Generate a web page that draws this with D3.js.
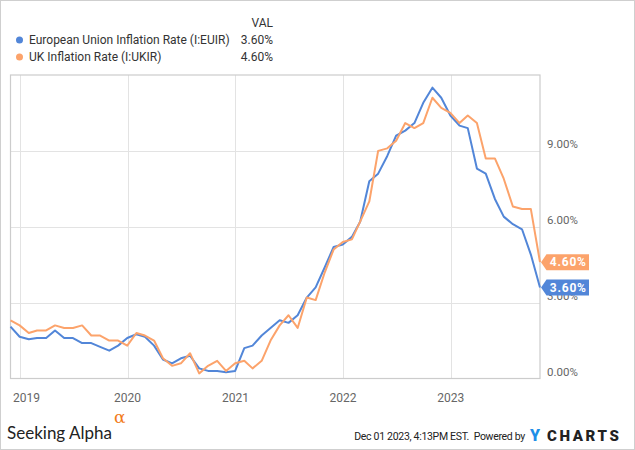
<!DOCTYPE html>
<html>
<head>
<meta charset="utf-8">
<script src="https://cdn.jsdelivr.net/npm/d3@7"></script>
<style>
  html, body { margin: 0; padding: 0; background: #fff; }
  svg { display: block; font-family: Roboto, "Liberation Sans", sans-serif; }
</style>
</head>
<body>
<svg id="chart" width="635" height="450"></svg>
<script>
// ---- data ----
const months = [
  "2018-11","2018-12",
  "2019-01","2019-02","2019-03","2019-04","2019-05","2019-06","2019-07","2019-08","2019-09","2019-10","2019-11","2019-12",
  "2020-01","2020-02","2020-03","2020-04","2020-05","2020-06","2020-07","2020-08","2020-09","2020-10","2020-11","2020-12",
  "2021-01","2021-02","2021-03","2021-04","2021-05","2021-06","2021-07","2021-08","2021-09","2021-10","2021-11","2021-12",
  "2022-01","2022-02","2022-03","2022-04","2022-05","2022-06","2022-07","2022-08","2022-09","2022-10","2022-11","2022-12",
  "2023-01","2023-02","2023-03","2023-04","2023-05","2023-06","2023-07","2023-08","2023-09","2023-10"
];
const euValues = [
  2.05,1.65,
  1.55,1.6,1.6,1.9,1.6,1.6,1.4,1.4,1.25,1.1,1.3,1.6,
  1.75,1.65,1.3,0.75,0.6,0.8,0.9,0.4,0.3,0.3,0.25,0.3,
  1.2,1.3,1.7,2.0,2.3,2.2,2.5,3.2,3.6,4.4,5.2,5.3,
  5.6,6.2,7.8,8.1,8.8,9.6,9.8,10.1,10.9,11.5,11.1,10.4,
  10.0,9.9,8.3,8.1,7.1,6.4,6.1,5.9,4.9,3.6
];
const ukValues = [
  2.3,2.1,
  1.8,1.9,1.9,2.1,2.0,2.0,2.1,1.7,1.7,1.5,1.5,1.3,
  1.8,1.7,1.5,0.8,0.5,0.6,1.0,0.2,0.5,0.7,0.3,0.6,
  0.7,0.4,0.7,1.5,2.1,2.5,2.0,3.2,3.1,4.2,5.1,5.4,
  5.5,6.2,7.0,9.0,9.1,9.4,10.1,9.9,10.1,11.1,10.7,10.5,
  10.1,10.4,10.1,8.7,8.7,7.9,6.8,6.7,6.7,4.6
];
const seriesNames = ["European Union Inflation Rate (I:EUIR)", "UK Inflation Rate (I:UKIR)"];
const seriesLast = ["3.60%", "4.60%"];
const yTicks = [0, 3, 6, 9];
const xTickYears = ["2019","2020","2021","2022","2023"];
const colors = ["#5286d8", "#fca36b"];

// ---- setup ----
const W = 635, H = 450;
const plot = {left: 10.5, right: 540, top: 75, bottom: 378.5};
const svg = d3.select("#chart");

const parseM = d3.timeParse("%Y-%m");
const dates = months.map(m => d3.timeDay.offset(d3.timeMonth.offset(parseM(m), 1), -1));
const x = d3.scaleTime().domain([dates[0], dates[dates.length - 1]]).range([plot.left, plot.right]);
const y = d3.scaleLinear().domain([0, 12]).range([plot.bottom, plot.top]);

// outer border
svg.append("rect").attr("x", 0.5).attr("y", 0.5).attr("width", W - 1).attr("height", H - 1)
  .attr("fill", "#fff").attr("stroke", "#cfcfcf");

// gridlines
const parseY = d3.timeParse("%Y");
const yearDates = xTickYears.map(parseY);
svg.append("g").selectAll("line.v").data(yearDates).join("line")
  .attr("x1", d => Math.round(x(d)) + 0.5).attr("x2", d => Math.round(x(d)) + 0.5)
  .attr("y1", plot.top).attr("y2", plot.bottom)
  .attr("stroke", "#e3e3e3").attr("stroke-width", 1);
svg.append("g").selectAll("line.h").data(yTicks.filter(t => t > 0)).join("line")
  .attr("x1", plot.left).attr("x2", plot.right)
  .attr("y1", d => Math.round(y(d)) + 0.5).attr("y2", d => Math.round(y(d)) + 0.5)
  .attr("stroke", "#e3e3e3").attr("stroke-width", 1);

// plot frame
svg.append("rect").attr("x", plot.left).attr("y", plot.top)
  .attr("width", plot.right - plot.left).attr("height", plot.bottom - plot.top)
  .attr("fill", "none").attr("stroke", "#cccccc").attr("stroke-width", 1.2);

// y axis labels
svg.append("g").selectAll("text").data(yTicks).join("text")
  .attr("x", 547).attr("y", d => y(d) - 2.5)
  .attr("font-size", 11.5).attr("fill", "#666")
  .text(d => d3.format(".2f")(d) + "%");

// x axis labels
svg.append("g").selectAll("text").data(yearDates).join("text")
  .attr("x", d => { const px = x(d); return px - 12 < plot.left ? 13 : px; })
  .attr("text-anchor", d => x(d) - 12 < plot.left ? "start" : "middle")
  .attr("y", 402)
  .attr("font-size", 12).attr("fill", "#666")
  .text((d, i) => xTickYears[i]);

// lines
const line = d3.line().x((d, i) => x(dates[i])).y(d => y(d));
[euValues, ukValues].forEach((vals, k) => {
  svg.append("path").datum(vals)
    .attr("d", line).attr("fill", "none")
    .attr("stroke", colors[k]).attr("stroke-width", 2)
    .attr("stroke-linejoin", "round");
});

// end tags
[euValues, ukValues].forEach((vals, k) => {
  const v = vals[vals.length - 1];
  const cy = y(v);
  const h = 16, x0 = 541, x1 = 546.5, x2 = 589;
  svg.append("path")
    .attr("d", `M${x0},${cy} L${x1},${cy - h / 2} L${x2},${cy - h / 2} L${x2},${cy + h / 2} L${x1},${cy + h / 2} Z`)
    .attr("fill", colors[k]);
  svg.append("text").attr("x", (x1 + x2) / 2 + 0.5).attr("y", cy + 4.3)
    .attr("text-anchor", "middle").attr("font-size", 12).attr("font-weight", "bold")
    .attr("letter-spacing", 0.8).attr("fill", "#fff")
    .text(d3.format(".2f")(v) + "%");
});

// legend
svg.append("text").attr("x", 273).attr("y", 27).attr("text-anchor", "end")
  .attr("font-size", 12).attr("fill", "#333").text("VAL");
seriesNames.forEach((name, k) => {
  const cy = 40 + k * 17;
  svg.append("circle").attr("cx", 19.5).attr("cy", cy).attr("r", 3.5).attr("fill", colors[k]);
  svg.append("text").attr("x", 29).attr("y", cy + 4.2).attr("font-size", 12).attr("fill", "#333").text(name);
  svg.append("text").attr("x", 273).attr("y", cy + 4.2).attr("text-anchor", "end")
    .attr("font-size", 12).attr("fill", "#333").text(seriesLast[k]);
});

// footer
svg.append("text").attr("x", 7).attr("y", 438.5)
  .attr("font-family", "Lato, 'Open Sans', sans-serif").attr("font-size", 18).attr("fill", "#222")
  .attr("textLength", 105).attr("lengthAdjust", "spacingAndGlyphs")
  .text("Seeking Alpha");
svg.append("text").attr("x", 114).attr("y", 423)
  .attr("font-family", "'DejaVu Serif', serif").attr("font-size", 17).attr("fill", "#f27a1a")
  .text("α");
svg.append("text").attr("x", 525).attr("y", 440).attr("text-anchor", "end")
  .attr("font-size", 10.5).attr("letter-spacing", -0.3).attr("fill", "#222")
  .text("Dec 01 2023, 4:13PM EST.\u00a0\u00a0Powered by");
svg.append("text").attr("x", 530).attr("y", 440.5)
  .attr("font-family", "Roboto, sans-serif").attr("font-size", 16).attr("font-weight", "900")
  .attr("fill", "#1e8fe8").text("Y");
svg.append("text").attr("x", 547).attr("y", 440.5)
  .attr("font-family", "Roboto, sans-serif").attr("font-size", 15).attr("font-weight", "900")
  .attr("fill", "#222").attr("letter-spacing", 2.6).text("CHARTS");
</script>
</body>
</html>
